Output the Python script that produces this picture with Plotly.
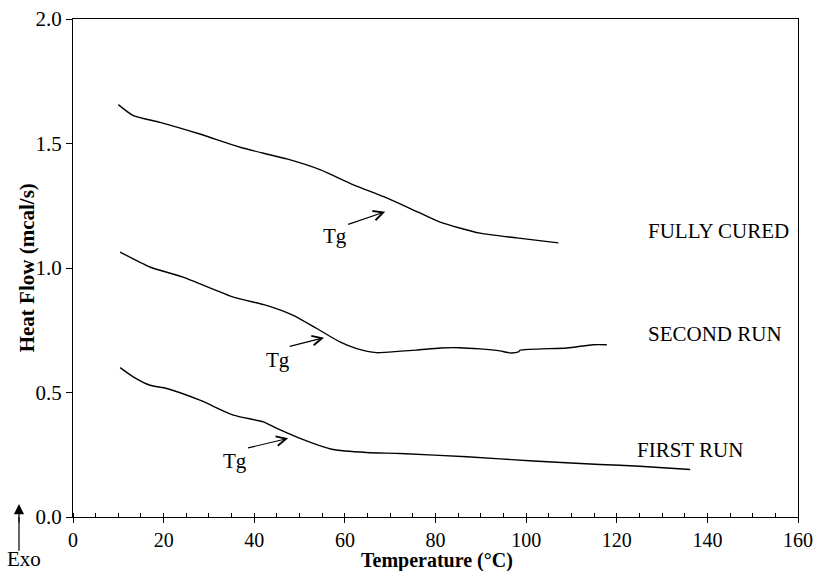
import plotly.graph_objects as go

# Temperature (°C) and heat flow (mcal/s)
fc_temp = [10.0, 13.3, 19.2, 28.0, 36.9, 42.7, 47.2, 54.5, 61.9, 69.2, 76.2, 81.0, 89.8, 97.9, 107.1]
fc_heat = [1.656, 1.612, 1.585, 1.538, 1.485, 1.458, 1.438, 1.395, 1.334, 1.282, 1.224, 1.184, 1.140, 1.121, 1.101]

sr_temp = [10.4, 17.0, 24.3, 35.4, 42.7, 48.6, 53.8, 58.9, 62.6, 67.0, 72.2, 75.8, 81.0, 85.4, 89.8, 94.2, 96.4, 98.3, 98.7, 109.0, 114.8, 117.8]
sr_heat = [1.064, 1.004, 0.963, 0.883, 0.850, 0.810, 0.757, 0.703, 0.676, 0.660, 0.666, 0.670, 0.679, 0.680, 0.675, 0.667, 0.659, 0.663, 0.670, 0.679, 0.692, 0.692]

fr_temp = [10.4, 13.3, 17.0, 20.7, 28.0, 35.4, 42.0, 45.0, 50.1, 57.4, 64.8, 72.2, 86.9, 101.6, 116.3, 125.1, 136.2]
fr_heat = [0.600, 0.563, 0.529, 0.516, 0.469, 0.409, 0.382, 0.356, 0.316, 0.271, 0.259, 0.255, 0.242, 0.225, 0.211, 0.204, 0.191]

curve_names = ["FULLY CURED", "SECOND RUN", "FIRST RUN"]
label_x = [142.5, 141.6, 136.2]
label_y = [1.149, 0.735, 0.271]

# Tg markers: text position, arrow tail and head
tg_text_x = [57.9, 45.2, 35.8]
tg_text_y = [1.129, 0.631, 0.225]
tg_tail_x = [60.4, 47.5, 38.3]
tg_tail_y = [1.173, 0.684, 0.276]
tg_head_x = [68.9, 55.4, 47.5]
tg_head_y = [1.226, 0.720, 0.316]

x_ticks = [0, 20, 40, 60, 80, 100, 120, 140, 160]
y_ticks = [0.0, 0.5, 1.0, 1.5, 2.0]

x_title = "Temperature (°C)"
y_title = "Heat Flow (mcal/s)"

SERIF = "Liberation Serif, Times New Roman, serif"
FS = 21

fig = go.Figure()
for xs, ys, nm in [(fc_temp, fc_heat, curve_names[0]),
                   (sr_temp, sr_heat, curve_names[1]),
                   (fr_temp, fr_heat, curve_names[2])]:
    fig.add_trace(go.Scatter(x=xs, y=ys, mode="lines", name=nm,
                             line=dict(color="black", width=1.4, shape="spline", smoothing=0.6),
                             showlegend=False, hoverinfo="skip"))

txtfont = dict(family=SERIF, size=FS, color="black")
annotations = []
for nm, lx, ly in zip(curve_names, label_x, label_y):
    annotations.append(dict(x=lx, y=ly, xref="x", yref="y", text=nm, showarrow=False,
                            xanchor="center", yanchor="middle", font=txtfont))
for tx, ty in zip(tg_text_x, tg_text_y):
    annotations.append(dict(x=tx, y=ty, xref="x", yref="y", text="Tg", showarrow=False,
                            xanchor="center", yanchor="middle", font=txtfont))
for ax_, ay_, hx, hy in zip(tg_tail_x, tg_tail_y, tg_head_x, tg_head_y):
    annotations.append(dict(x=hx, y=hy, ax=ax_, ay=ay_, xref="x", yref="y", axref="x", ayref="y",
                            text="", showarrow=True, arrowhead=5, arrowsize=1.6, arrowwidth=1.2,
                            arrowcolor="black"))
# Exo indicator (arrow head + shaft)
annotations.append(dict(x=-0.0745, y=0.026, xref="paper", yref="paper", ax=0, ay=20,
                        axref="pixel", ayref="pixel", text="", showarrow=True, arrowhead=2,
                        arrowsize=1.7, arrowwidth=1.2, arrowcolor="black"))
annotations.append(dict(x=-0.0676, y=-0.084, xref="paper", yref="paper", text="Exo",
                        xanchor="center", yanchor="middle", showarrow=False, font=txtfont))
# Axis titles
annotations.append(dict(x=0.502, y=-0.087, xref="paper", yref="paper", text=f"<b>{x_title}</b>",
                        xanchor="center", yanchor="middle", showarrow=False,
                        font=dict(family=SERIF, size=20, color="black")))
annotations.append(dict(x=-0.063, y=0.5, xref="paper", yref="paper", text=f"<b>{y_title}</b>",
                        textangle=-90, xanchor="center", yanchor="middle", showarrow=False, font=txtfont))

fig.update_layout(
    width=817, height=571,
    margin=dict(l=73, r=19, t=19, b=54),
    plot_bgcolor="white", paper_bgcolor="white",
    font=dict(family=SERIF, size=FS, color="black"),
    annotations=annotations,
    shapes=[dict(type="line", xref="paper", yref="paper", x0=-0.0745, x1=-0.0745,
                 y0=-0.068, y1=0.0, line=dict(color="black", width=1.2))],
)
fig.update_xaxes(
    range=[0, 160], tickvals=x_ticks, ticktext=[str(v) for v in x_ticks],
    automargin=False,
    showgrid=False, zeroline=False, showline=True, linecolor="black", linewidth=1.2,
    mirror=True, ticks="outside", ticklen=5, tickcolor="black", tickwidth=1.2,
    minor=dict(dtick=5, tick0=0, ticks="inside", ticklen=4, tickcolor="black", tickwidth=1, showgrid=False),
    tickfont=dict(family=SERIF, size=20, color="black"),
)
fig.update_yaxes(
    range=[0, 2.0], tickvals=y_ticks, ticktext=[f"{v:.1f}" for v in y_ticks],
    automargin=False,
    showgrid=False, zeroline=False, showline=True, linecolor="black", linewidth=1.2,
    mirror=True, ticks="outside", ticklen=6, tickcolor="black", tickwidth=1.2,
    tickfont=txtfont,
)

fig.write_html("out.html")
